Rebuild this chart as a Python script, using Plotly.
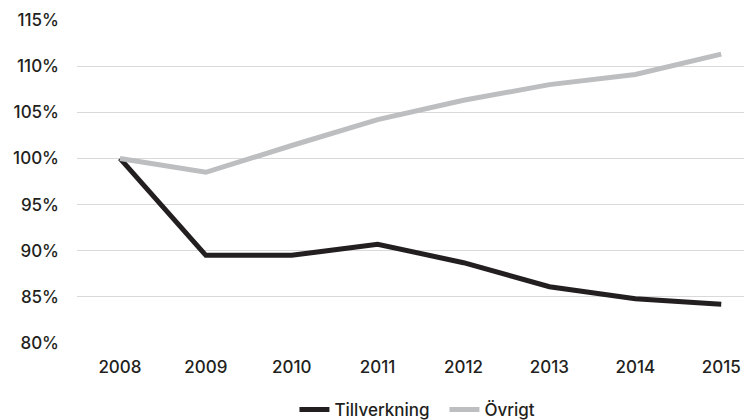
import plotly.graph_objects as go

years = ["2008", "2009", "2010", "2011", "2012", "2013", "2014", "2015"]
tillverkning = [100.0, 89.5, 89.5, 90.7, 88.7, 86.1, 84.8, 84.2]
ovrigt = [100.0, 98.5, 101.4, 104.2, 106.3, 108.0, 109.1, 111.3]
tick_vals = [80, 85, 90, 95, 100, 105, 110, 115]
tick_text = [f"{v}%" for v in tick_vals]

dark = "#231f20"
grey = "#bcbec0"
font = "Inter, Roboto, sans-serif"

fig = go.Figure()
fig.add_trace(go.Scatter(
    x=list(range(len(years))), y=tillverkning, name="Tillverkning",
    mode="lines", line=dict(color=dark, width=5),
))
fig.add_trace(go.Scatter(
    x=list(range(len(years))), y=ovrigt, name="Övrigt",
    mode="lines", line=dict(color=grey, width=5),
))

fig.update_layout(
    width=744, height=420,
    margin=dict(l=77, r=0, t=20, b=77, autoexpand=False),
    paper_bgcolor="white", plot_bgcolor="white",
    font=dict(family=font, size=17, color=dark, weight=500),
    showlegend=True,
    legend=dict(
        orientation="h", x=0.326, xanchor="left", y=-0.207, yanchor="middle",
        font=dict(family=font, size=17, color=dark, weight=500),
        itemwidth=30, tracegroupgap=0,
        entrywidth=105, entrywidthmode="pixels",
    ),
    xaxis=dict(
        tickmode="array", tickvals=list(range(len(years))), ticktext=years,
        range=[-0.5, 7.265], showgrid=False, zeroline=False, showline=False,
        ticks="", ticklabelstandoff=12,
        tickfont=dict(family=font, size=17, color=dark, weight=500),
    ),
    yaxis=dict(
        tickmode="array", tickvals=tick_vals, ticktext=tick_text,
        range=[80, 115], showgrid=True, gridcolor="#d9d9d9", gridwidth=1,
        zeroline=False, showline=False, ticks="", ticklabelstandoff=17,
        tickfont=dict(family=font, size=17, color=dark, weight=500),
    ),
)

fig.write_html("out.html")
